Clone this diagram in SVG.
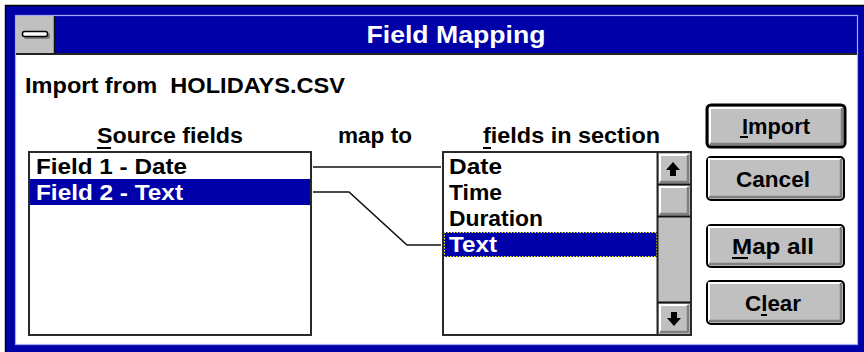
<svg xmlns="http://www.w3.org/2000/svg" width="864" height="352" viewBox="0 0 864 352">
<style>
.t{font-family:"Liberation Sans",Arial,sans-serif;font-weight:bold;font-size:22px;fill:#000}
.w{fill:#fff}
.face{fill:#c0c0c0}
.hl{fill:none;stroke:#fff;stroke-width:2}
.sh{fill:none;stroke:#808080;stroke-width:2.5}
.box{fill:#fff;stroke:#2a2a2a;stroke-width:2}
.sel{fill:#0000a8}
.ul{stroke:#000;stroke-width:2}
.con{fill:none;stroke:#111;stroke-width:1.6}
</style>
<rect width="864" height="352" fill="#fff"/>
<g id="frame">
<rect x="5" y="5" width="859" height="347" fill="#0000a8"/>
<line x1="5" y1="5.5" x2="864" y2="5.5" stroke="#000" stroke-width="1.5"/>
<line x1="5.5" y1="5" x2="5.5" y2="352" stroke="#000" stroke-width="1.5"/>
<rect x="16" y="16" width="841" height="328" fill="#fff"/>
<rect x="16" y="16" width="841" height="37" fill="#0000a8"/>
<line x1="16" y1="54" x2="857" y2="54" stroke="#222" stroke-width="2"/>
<rect x="16" y="16" width="38" height="37" fill="#c0c0c0"/>
<line x1="54.5" y1="16" x2="54.5" y2="54" stroke="#111" stroke-width="1.5"/>
<rect x="24" y="33" width="26" height="6" rx="2" fill="#808080"/>
<rect x="22.5" y="31.5" width="25" height="5" rx="2" fill="#fff" stroke="#000" stroke-width="1.5"/>
<rect x="15.5" y="15.5" width="842" height="329" fill="none" stroke="#a8a8f8" stroke-width="1.2"/>
<text x="456" y="43" text-anchor="middle" class="t w" style="font-size:24px" textLength="179" lengthAdjust="spacingAndGlyphs">Field Mapping</text>
</g>
<g id="import-label">
<text x="25" y="93" class="t" textLength="320" lengthAdjust="spacingAndGlyphs">Import from&#160; HOLIDAYS.CSV</text>
</g>
<g id="source-fields">
<text x="97" y="143" class="t" textLength="146" lengthAdjust="spacingAndGlyphs">Source fields</text>
<line x1="97" y1="148" x2="111" y2="148" class="ul"/>
<rect x="29" y="152" width="282" height="183" class="box"/>
<rect x="30" y="179" width="280" height="26" class="sel"/>
<text x="36" y="174" class="t" textLength="151" lengthAdjust="spacingAndGlyphs">Field 1 - Date</text>
<text x="36" y="200" class="t w" textLength="147" lengthAdjust="spacingAndGlyphs">Field 2 - Text</text>
</g>
<g id="map-to">
<text x="338" y="143" class="t" textLength="74" lengthAdjust="spacingAndGlyphs">map to</text>
</g>
<g id="connectors">
<polyline points="313,167 441,167" class="con"/>
<polyline points="313,192 349,192 407,245 441,245" class="con"/>
</g>
<g id="fields-in-section">
<text x="483" y="143" class="t" textLength="177" lengthAdjust="spacingAndGlyphs">fields in section</text>
<line x1="483" y1="148" x2="491" y2="148" class="ul"/>
<rect x="443" y="152" width="248" height="183" class="box"/>
<rect x="444" y="232" width="213" height="25" class="sel"/>
<rect x="444.5" y="232.5" width="212" height="24" fill="none" stroke="#ffff00" stroke-width="1" stroke-dasharray="1.5,1.5"/>
<text x="449" y="174" class="t" textLength="53" lengthAdjust="spacingAndGlyphs">Date</text>
<text x="449" y="200" class="t" textLength="53" lengthAdjust="spacingAndGlyphs">Time</text>
<text x="449" y="226" class="t" textLength="94" lengthAdjust="spacingAndGlyphs">Duration</text>
<text x="449" y="252" class="t w" textLength="48" lengthAdjust="spacingAndGlyphs">Text</text>
</g>
<g id="scrollbar">
<rect x="658" y="153" width="32" height="181" class="face"/>
<line x1="657.5" y1="152" x2="657.5" y2="335" stroke="#222" stroke-width="2"/>
<polyline points="660,182 660,155 688,155" class="hl"/>
<polyline points="688,155 688,182 660,182" class="sh"/>
<line x1="658" y1="184.5" x2="690" y2="184.5" stroke="#111" stroke-width="2"/>
<path d="M673,162 L666,170 L670,170 L670,176 L676,176 L676,170 L680,170 Z" fill="#000"/>
<polyline points="660,214 660,187 688,187" class="hl"/>
<polyline points="688,187 688,214 660,214" class="sh"/>
<line x1="658" y1="216.5" x2="690" y2="216.5" stroke="#111" stroke-width="2"/>
<line x1="658" y1="302.5" x2="690" y2="302.5" stroke="#111" stroke-width="2"/>
<polyline points="660,332 660,305 688,305" class="hl"/>
<polyline points="688,305 688,332 660,332" class="sh"/>
<path d="M674,326 L667,318 L671,318 L671,312 L677,312 L677,318 L681,318 Z" fill="#000"/>
</g>
<g id="btn-import">
<rect x="707" y="105" width="138" height="42" rx="4" class="face" stroke="#000" stroke-width="3"/>
<polyline points="710,144 710,108 842,108" class="hl"/>
<polyline points="842,108 842,144 710,144" class="sh"/>
<text x="776" y="134" text-anchor="middle" class="t" textLength="68" lengthAdjust="spacingAndGlyphs">Import</text>
<line x1="740" y1="137" x2="748" y2="137" class="ul"/>
</g>
<g id="btn-cancel">
<rect x="707" y="157" width="137" height="43" rx="4" class="face" stroke="#000" stroke-width="2"/>
<polyline points="709,197 709,159 841,159" class="hl"/>
<polyline points="841,159 841,197 709,197" class="sh"/>
<text x="773" y="187" text-anchor="middle" class="t" textLength="74" lengthAdjust="spacingAndGlyphs">Cancel</text>
</g>
<g id="btn-map-all">
<rect x="707" y="225" width="137" height="42" rx="4" class="face" stroke="#000" stroke-width="2"/>
<polyline points="709,264 709,227 841,227" class="hl"/>
<polyline points="841,227 841,264 709,264" class="sh"/>
<text x="773" y="254" text-anchor="middle" class="t" textLength="82" lengthAdjust="spacingAndGlyphs">Map all</text>
<line x1="732" y1="258" x2="748" y2="258" class="ul"/>
</g>
<g id="btn-clear">
<rect x="707" y="281" width="137" height="43" rx="4" class="face" stroke="#000" stroke-width="2"/>
<polyline points="709,321 709,283 841,283" class="hl"/>
<polyline points="841,283 841,321 709,321" class="sh"/>
<text x="773" y="311" text-anchor="middle" class="t" textLength="56" lengthAdjust="spacingAndGlyphs">Clear</text>
<line x1="761" y1="315" x2="767" y2="315" class="ul"/>
</g>
</svg>
